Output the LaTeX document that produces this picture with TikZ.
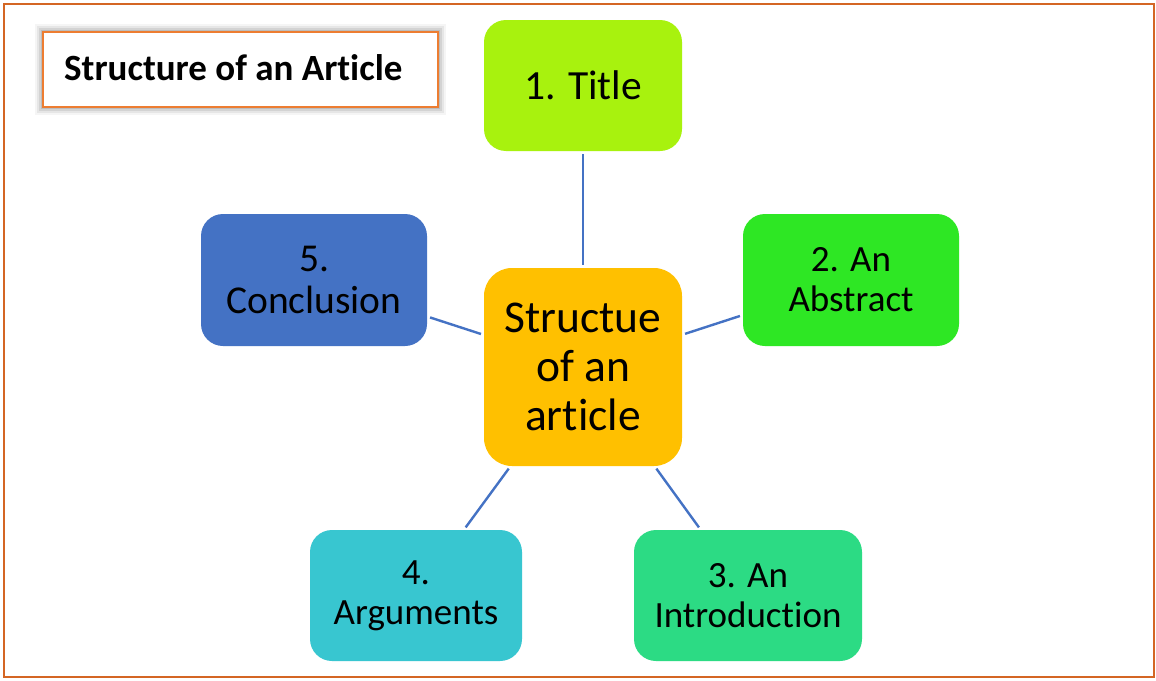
\documentclass[tikz,border=0pt]{standalone}
\usepackage{fontspec}
\setmainfont{Carlito}[Ligatures=NoCommon]
\begin{document}
\begin{tikzpicture}[x=1pt,y=-1pt,
  box/.style={rounded corners=22pt, inner sep=0pt, align=center,
    font=\fontsize{37}{40}\selectfont, text=black},
  conn/.style={draw=linkblue, line width=2.4pt, shorten <=3pt, shorten >=3pt}]
\definecolor{frameorange}{RGB}{212,102,36}
\definecolor{titleorange}{RGB}{237,125,49}
\definecolor{linkblue}{RGB}{68,114,196}
\definecolor{centergold}{RGB}{255,192,0}
\definecolor{limegreen}{RGB}{168,242,14}
\definecolor{brightgreen}{RGB}{46,231,36}
\definecolor{mintgreen}{RGB}{44,219,132}
\definecolor{tealblue}{RGB}{56,198,208}
\definecolor{royalblue}{RGB}{68,114,196}
\useasboundingbox (0,0) rectangle (1156,680);
\fill[white] (0,0) rectangle (1156,680);
% outer frame
\draw[frameorange, line width=2pt] (4,4) rectangle (1154,677);
% heading box with soft glow
\foreach \g/\o in {8/0.04,6/0.06,4/0.08,2/0.10}
  \fill[black, opacity=\o] (43-\g,32-\g) rectangle (438+\g,107+\g);
\node[draw=titleorange, line width=2.2pt, fill=white, minimum width=395pt,
  minimum height=75pt, inner sep=0pt] (head) at (240.5,69.5) {};
\node[anchor=base west, font=\bfseries\fontsize{37}{40}\selectfont, inner sep=0pt]
  (headtext) at (64,80) {Structure of an Article};
% topic nodes
\node[box, rounded corners=28pt, fill=centergold, minimum width=198pt, minimum height=198pt,
  font=\fontsize{45.5}{49}\selectfont] (c) at (583,367) {Structue\\of an\\article};
\node[box, fill=limegreen, minimum width=198pt, minimum height=131pt,
  font=\fontsize{41.5}{44}\selectfont] (t) at (583,85.5) {1. Title};
\node[box, fill=brightgreen, minimum width=216pt, minimum height=132pt] (a) at (851,280) {2. An\\Abstract};
\node[box, fill=royalblue, minimum width=226pt, minimum height=132pt,
  font=\fontsize{39.5}{42}\selectfont] (k) at (314,280) {5.\\Conclusion};
\node[box, fill=tealblue, minimum width=212pt, minimum height=131pt] (g) at (416,595.5) {4.\\Arguments};
\node[box, fill=mintgreen, minimum width=228pt, minimum height=131pt] (i) at (748,595.5) {3. An\\Introduction};
% connectors
\draw[conn] (c) -- (t);
\draw[conn] (c) -- (a);
\draw[conn] (c) -- (k);
\draw[conn] (c) -- (g);
\draw[conn] (c) -- (i);
\end{tikzpicture}
\end{document}
